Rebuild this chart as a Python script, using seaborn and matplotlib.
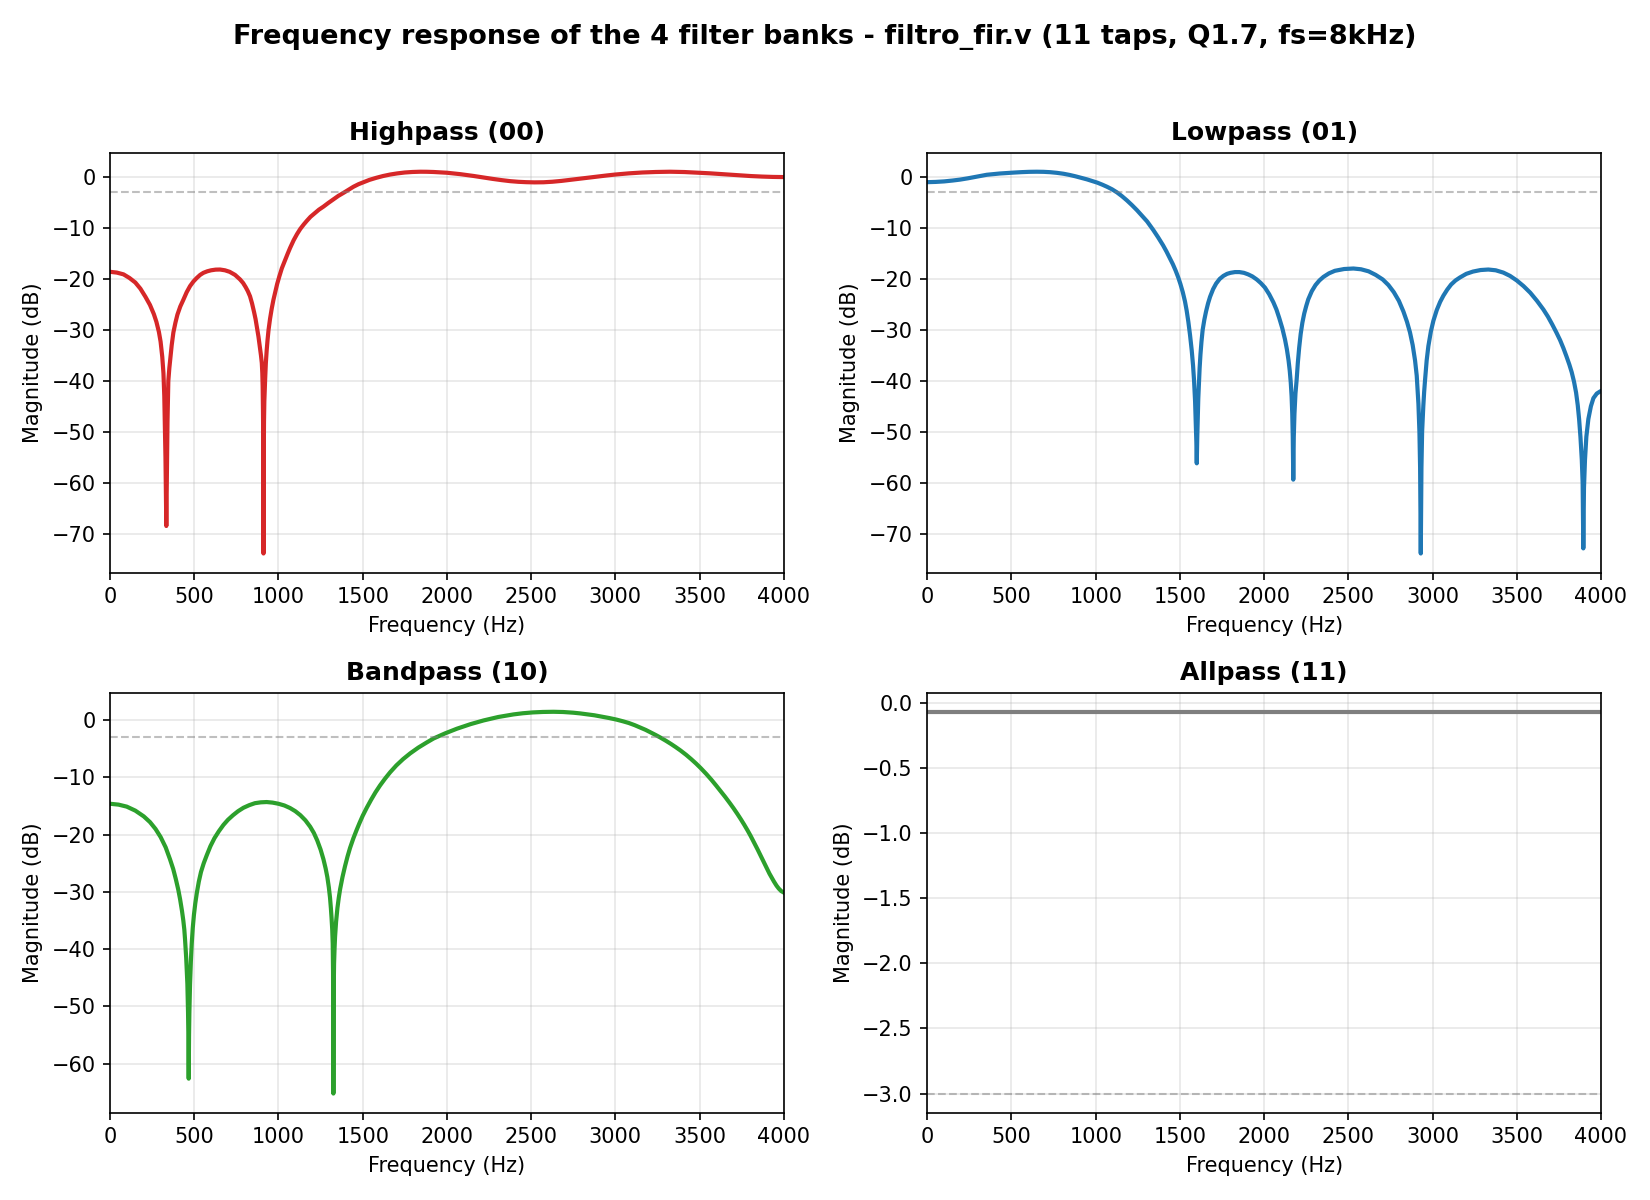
import numpy as np
import pandas as pd
import matplotlib
matplotlib.use('Agg')
import matplotlib.pyplot as plt
import seaborn as sns

# Valeurs (frequence en Hz, magnitude en dB)
hp_freq = [0, 40, 80, 115, 150, 180, 210, 237, 260, 275, 290, 300, 310, 317, 322, 326, 329, 331, 333, 334,
           335.5, 337, 339, 341, 343.5, 346, 352, 358, 366, 376, 388, 400, 417, 435, 455, 475, 495, 515,
           535, 554, 577, 600, 627, 653, 682, 710, 742, 772, 790, 805, 818, 831, 843, 855, 864, 871, 881,
           890, 896, 901, 904, 906, 908, 909.5, 911, 912.5, 914, 916, 918.5, 921, 925, 930, 935, 941, 950,
           960, 970, 980, 992, 1005, 1020, 1039, 1055, 1069, 1090, 1110, 1129, 1150, 1168, 1190, 1215, 1240,
           1267, 1295, 1325, 1355, 1386, 1415, 1445, 1475, 1505, 1540, 1580, 1620, 1663, 1705, 1750, 1795,
           1842, 1880, 1920, 1960, 2000, 2040, 2080, 2120, 2158, 2215, 2270, 2325, 2376, 2425, 2470, 2520,
           2573, 2625, 2680, 2735, 2791, 2845, 2900, 2950, 3000, 3080, 3160, 3240, 3325, 3410, 3500, 3560,
           3620, 3680, 3741, 3805, 3870, 3935, 4000]
hp_db = [-18.6, -18.75, -19.1, -19.8, -20.7, -21.9, -23.5, -25.1, -26.9, -28.4, -30.4, -32.3, -35.3, -38.5, -43.0, -50.0, -55.0, -60.0, -65.0, -68.5,
         -64.0, -58.0, -52.0, -48.0, -44.0, -40.0, -37.5, -35.5, -33.0, -30.5, -28.6, -27.0, -25.4, -24.1, -22.6, -21.4, -20.5, -19.8,
         -19.2, -18.8, -18.5, -18.3, -18.17, -18.15, -18.3, -18.6, -19.2, -20.1, -20.8, -21.6, -22.4, -23.4, -24.8, -26.5, -27.9, -29.3, -31.3,
         -33.5, -35.0, -36.5, -38.5, -41.0, -46.0, -52.0, -73.9, -56.0, -48.0, -44.0, -41.5, -39.5, -36.5, -34.0, -32.0, -30.0, -27.8,
         -25.8, -24.1, -22.7, -21.0, -19.5, -17.9, -16.3, -15.0, -13.9, -12.4, -11.2, -10.2, -9.3, -8.6, -7.8, -7.1, -6.4,
         -5.8, -5.1, -4.4, -3.7, -3.1, -2.5, -1.9, -1.4, -1.0, -0.55, -0.15, 0.2, 0.5, 0.72, 0.9, 1.0,
         1.05, 1.04, 1.0, 0.93, 0.85, 0.72, 0.57, 0.4, 0.22, -0.07, -0.35, -0.6, -0.8, -0.93, -1.0, -1.04,
         -1.02, -0.92, -0.75, -0.53, -0.3, -0.08, 0.13, 0.32, 0.5, 0.73, 0.9, 1.0, 1.05, 0.99, 0.85, 0.74,
         0.61, 0.47, 0.33, 0.2, 0.1, 0.03, 0.0]

lp_freq = [0, 50, 100, 150, 194, 240, 280, 315, 353, 390, 430, 470, 512, 560, 605, 650, 690, 730, 770,
           809, 845, 880, 915, 948, 980, 1010, 1040, 1067, 1097, 1126, 1156, 1186, 1215, 1245, 1275, 1305,
           1325, 1342, 1370, 1400, 1420, 1440, 1458, 1475, 1490, 1503, 1517, 1530, 1540, 1550, 1560, 1570,
           1578, 1584, 1590, 1594, 1597.5, 1600, 1603, 1606, 1609, 1613, 1617, 1622, 1628, 1635, 1645, 1655,
           1667, 1679, 1697, 1715, 1736, 1758, 1780, 1800, 1827, 1853, 1880, 1905, 1930, 1956, 1980, 2005,
           2030, 2055, 2073, 2090, 2108, 2124, 2135, 2145, 2152, 2158, 2163, 2167, 2170, 2173, 2176, 2180,
           2186, 2193, 2200, 2208, 2217, 2227, 2238, 2250, 2262, 2283, 2305, 2328, 2352, 2385, 2420, 2475,
           2530, 2575, 2620, 2662, 2704, 2738, 2770, 2800, 2827, 2848, 2866, 2882, 2896, 2906, 2916, 2922,
           2926, 2930, 2934, 2938, 2945, 2950, 2955, 2965, 2975, 2990, 3005, 3025, 3045, 3064, 3087, 3110,
           3136, 3163, 3200, 3240, 3285, 3331, 3375, 3420, 3460, 3500, 3540, 3580, 3620, 3658, 3685, 3710,
           3735, 3757, 3777, 3795, 3812, 3826, 3840, 3852, 3862, 3870, 3878, 3886, 3891, 3895, 3899, 3905,
           3913, 3925, 3940, 3955, 3975, 3994, 4000]
lp_db = [-1.0, -0.95, -0.85, -0.68, -0.5, -0.25, 0.0, 0.22, 0.45, 0.58, 0.7, 0.79, 0.88, 0.97, 1.03, 1.05, 1.03, 0.96, 0.83,
         0.65, 0.42, 0.15, -0.15, -0.45, -0.78, -1.1, -1.5, -1.9, -2.4, -3.0, -3.75, -4.6, -5.5, -6.5, -7.6, -8.7,
         -9.6, -10.4, -11.8, -13.4, -14.6, -15.9, -17.1, -18.4, -19.7, -21.0, -22.6, -24.4, -26.2, -28.4, -31.0, -34.0,
         -37.0, -40.0, -44.0, -48.0, -52.0, -56.2, -51.0, -47.0, -43.5, -40.5, -37.5, -34.8, -32.3, -30.0, -28.0, -26.4,
         -24.8, -23.5, -22.0, -20.9, -20.0, -19.4, -19.0, -18.8, -18.65, -18.65, -18.8, -19.1, -19.5, -20.1, -20.8, -21.7,
         -23.0, -24.6, -26.0, -27.7, -29.7, -31.9, -33.8, -36.0, -38.0, -40.3, -43.0, -46.5, -51.0, -59.4, -51.0, -46.5,
         -42.5, -39.8, -36.5, -33.5, -30.8, -28.6, -26.8, -25.3, -24.0, -22.4, -21.2, -20.3, -19.6, -18.9, -18.4, -18.05,
         -17.95, -18.1, -18.5, -19.2, -20.1, -21.2, -22.6, -24.3, -26.4, -28.4, -30.5, -33.0, -36.0, -39.0, -44.5, -50.0,
         -57.0, -73.9, -57.0, -50.0, -45.0, -42.2, -40.0, -36.0, -33.2, -30.3, -28.2, -26.1, -24.5, -23.3, -22.1, -21.1,
         -20.3, -19.7, -19.0, -18.55, -18.25, -18.15, -18.3, -18.75, -19.4, -20.3, -21.4, -22.7, -24.3, -26.0, -27.4, -28.9,
         -30.5, -32.0, -33.6, -35.2, -36.8, -38.3, -40.2, -42.3, -44.8, -47.5, -51.0, -55.5, -60.0, -72.9, -61.0, -55.5,
         -51.0, -47.5, -45.0, -43.4, -42.5, -42.1, -42.0]

bp_freq = [0, 50, 99, 150, 200, 237, 270, 300, 330, 356, 375, 390, 405, 416, 427, 435, 441, 445, 452, 459,
           463, 465, 467, 469, 471, 475, 480, 485, 491, 498, 506, 515, 527, 540, 556, 574, 596, 620, 646,
           673, 700, 730, 760, 792, 826, 860, 895, 930, 965, 1000, 1035, 1069, 1100, 1130, 1160, 1188, 1210,
           1230, 1250, 1267, 1280, 1290, 1299, 1306, 1311, 1315, 1319, 1322, 1324, 1326, 1328, 1330, 1333,
           1336, 1342, 1350, 1358, 1366, 1380, 1395, 1410, 1425, 1445, 1465, 1482, 1500, 1524, 1550, 1576,
           1603, 1633, 1663, 1700, 1740, 1782, 1830, 1880, 1921, 1990, 2059, 2140, 2218, 2305, 2395, 2450,
           2510, 2570, 2633, 2690, 2750, 2790, 2831, 2875, 2920, 2965, 3006, 3045, 3080, 3115, 3149, 3180,
           3210, 3240, 3268, 3300, 3330, 3358, 3387, 3420, 3450, 3480, 3506, 3540, 3570, 3598, 3625, 3652,
           3680, 3702, 3724, 3745, 3765, 3785, 3803, 3825, 3845, 3865, 3883, 3900, 3915, 3930, 3942, 3957,
           3970, 3985, 4000]
bp_db = [-14.6, -14.75, -15.1, -15.8, -16.8, -17.8, -19.0, -20.4, -22.2, -24.3, -26.0, -27.7, -29.6, -31.3, -33.3, -35.0, -36.6, -38.2, -41.5, -46.0,
         -51.0, -55.0, -62.6, -55.0, -51.0, -46.0, -42.0, -39.0, -36.3, -34.0, -32.0, -30.2, -28.2, -26.5, -25.0, -23.6, -22.0, -20.6, -19.4,
         -18.3, -17.4, -16.6, -15.9, -15.3, -14.85, -14.5, -14.35, -14.3, -14.4, -14.6, -14.9, -15.35, -15.9, -16.6, -17.5, -18.6, -19.7,
         -21.0, -22.6, -24.3, -25.9, -27.4, -29.2, -31.0, -32.8, -34.5, -36.5, -39.0, -44.0, -65.2, -47.0, -42.5, -39.8,
         -37.8, -35.2, -32.8, -31.0, -29.5, -27.4, -25.5, -23.8, -22.3, -20.6, -19.1, -17.9, -16.7, -15.3, -13.9, -12.6,
         -11.4, -10.2, -9.1, -7.9, -6.8, -5.8, -4.8, -3.9, -3.2, -2.3, -1.5, -0.7, -0.05, 0.55, 1.0, 1.2,
         1.35, 1.43, 1.46, 1.42, 1.3, 1.18, 1.02, 0.85, 0.6, 0.36, 0.1, -0.2, -0.5, -0.88, -1.3, -1.7,
         -2.15, -2.6, -3.05, -3.6, -4.15, -4.7, -5.3, -6.05, -6.8, -7.6, -8.35, -9.4, -10.4, -11.4, -12.4, -13.4,
         -14.5, -15.4, -16.35, -17.3, -18.25, -19.25, -20.2, -21.45, -22.6, -23.8, -24.9, -25.9, -26.8, -27.6, -28.2, -28.9,
         -29.4, -29.85, -30.1]

ap_freq = [0, 1000, 2000, 3000, 4000]
ap_db = [-0.07, -0.07, -0.07, -0.07, -0.07]

titles = ['Highpass (00)', 'Lowpass (01)', 'Bandpass (10)', 'Allpass (11)']
colors = ['tab:red', 'tab:blue', 'tab:green', 'tab:gray']
freqs = [hp_freq, lp_freq, bp_freq, ap_freq]
mags = [hp_db, lp_db, bp_db, ap_db]

fig, axes = plt.subplots(2, 2, figsize=(11, 8), dpi=150)
fig.subplots_adjust(left=0.0667, right=0.9703, top=0.8728, bottom=0.0728,
                    wspace=0.213, hspace=0.286)

for ax, f, m, titre, c in zip(axes.flat, freqs, mags, titles, colors):
    df = pd.DataFrame({'Frequence': f, 'Magnitude': m})
    sns.lineplot(data=df, x='Frequence', y='Magnitude', ax=ax, color=c,
                 linewidth=2, estimator=None, sort=False)
    ax.axhline(-3, color='gray', linestyle='--', linewidth=1, alpha=0.5)
    ax.set_title(titre, fontsize=12, fontweight='bold')
    ax.set_xlabel('Frequency (Hz)')
    ax.set_ylabel('Magnitude (dB)')
    ax.set_xlim(0, 4000)
    ax.grid(True, alpha=0.3)

fig.suptitle('Frequency response of the 4 filter banks - filtro_fir.v (11 taps, Q1.7, fs=8kHz)',
             fontsize=13, fontweight='bold')

plt.savefig('out.png', dpi=150)
